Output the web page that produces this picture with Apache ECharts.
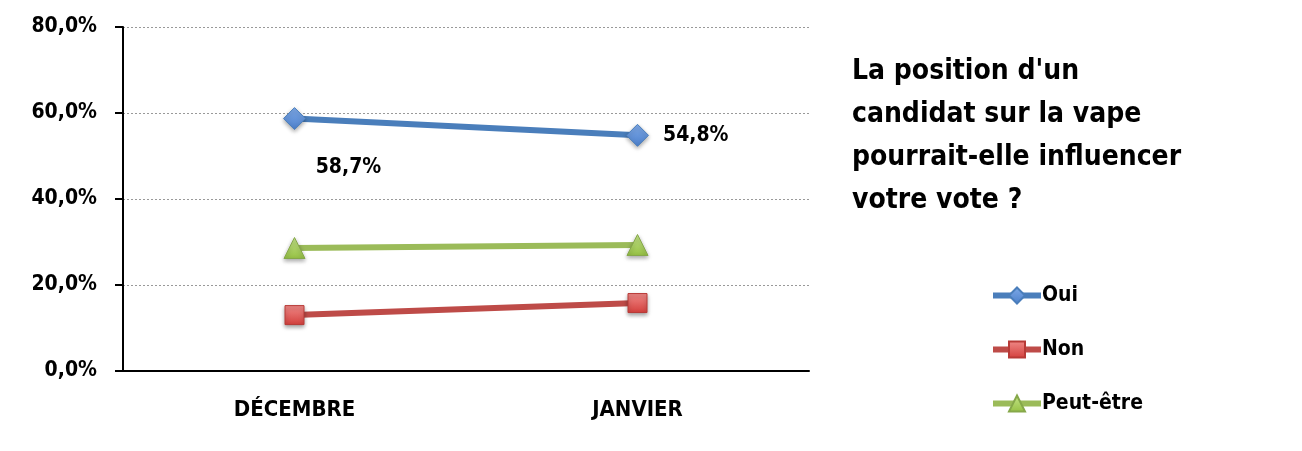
<!DOCTYPE html>
<html><head><meta charset="utf-8">
<script src="https://cdn.jsdelivr.net/npm/echarts@6/dist/echarts.min.js"></script>
<style>html,body{margin:0;padding:0;background:#fff}#c{width:1302px;height:451px}</style>
</head><body><div id="c"></div>
<script>
const categories = ['DÉCEMBRE', 'JANVIER'];
const oui = [58.7, 54.8];
const non = [13.0, 15.8];
const peutEtre = [28.6, 29.3];
const yTicks = [0, 20, 40, 60, 80];
const FONT = '"DejaVu Sans Condensed", "Liberation Sans Narrow", sans-serif';
const fmt = v => v.toFixed(1).replace('.', ',') + '%';

const chart = echarts.init(document.getElementById('c'));
function grad(c1, c2){ return new echarts.graphic.LinearGradient(0,0,0,1,[{offset:0,color:c1},{offset:1,color:c2}]); }
chart.setOption({
  animation: false,
  textStyle: { fontFamily: FONT },
  title: {
    text: "La position d'un\ncandidat sur la vape\npourrait-elle influencer\nvotre vote ?",
    left: 847, top: 45,
    textStyle: { fontFamily: FONT, fontSize: 28, fontWeight: 'bold', color: '#000', lineHeight: 43 }
  },
  legend: {
    orient: 'vertical', left: 990, top: 285, padding: 0, itemGap: 33, itemWidth: 48, itemHeight: 20,
    lineStyle: { width: 6 },
    textStyle: { fontFamily: FONT, fontSize: 21, fontWeight: 'bold', color: '#000', padding: [0,0,0,-4] },
    data: ['Oui', 'Non', 'Peut-être']
  },
  grid: { left: 123, right: 493, top: 27, bottom: 80 },
  xAxis: {
    type: 'category', data: categories, boundaryGap: true,
    axisLine: { lineStyle: { color: '#000', width: 2 } },
    axisTick: { length: 6, lineStyle: { color: '#000', width: 2 } },
    axisLabel: { margin: 28, fontFamily: FONT, fontSize: 22, fontWeight: 'bold', color: '#000' }
  },
  yAxis: {
    type: 'value', min: yTicks[0], max: yTicks[yTicks.length-1], interval: 20,
    axisLine: { show: true, lineStyle: { color: '#000', width: 2 } },
    axisTick: { show: true, length: 8, lineStyle: { color: '#000', width: 2 } },
    axisLabel: { margin: 26, fontFamily: FONT, fontSize: 21, fontWeight: 'bold', color: '#000', formatter: v => fmt(v) },
    splitLine: { show: true, lineStyle: { color: '#999', type: [2, 2], width: 1 } }
  },
  series: [
    {
      name: 'Oui', type: 'line', symbol: 'diamond', symbolSize: 22,
      lineStyle: { color: '#4A7EBB', width: 6 },
      itemStyle: { color: grad('#7FAAE8', '#4B7FCB'), borderColor: '#4A7EBB', borderWidth: 1, shadowColor: 'rgba(0,0,0,0.35)', shadowBlur: 4, shadowOffsetY: 2 },
      data: [
        { value: oui[0], label: { show: true, position: 'bottom', offset: [54, 22], formatter: p => fmt(p.value) } },
        { value: oui[1], label: { show: true, position: 'right', distance: 14, formatter: p => fmt(p.value) } }
      ],
      label: { fontFamily: FONT, fontSize: 21, fontWeight: 'bold', color: '#000' },
      z: 3
    },
    {
      name: 'Non', type: 'line', symbol: 'rect', symbolSize: 19,
      lineStyle: { color: '#BE4B48', width: 6 },
      itemStyle: { color: grad('#F08A88', '#D33F3C'), borderColor: '#B83A37', borderWidth: 1, shadowColor: 'rgba(0,0,0,0.35)', shadowBlur: 4, shadowOffsetY: 2 },
      data: non, z: 2
    },
    {
      name: 'Peut-être', type: 'line', symbol: 'triangle', symbolSize: 21,
      lineStyle: { color: '#9BBB59', width: 6 },
      itemStyle: { color: grad('#C6E68A', '#95C043'), borderColor: '#86A84A', borderWidth: 1, shadowColor: 'rgba(0,0,0,0.35)', shadowBlur: 4, shadowOffsetY: 2 },
      data: peutEtre, z: 2
    }
  ]
});
</script></body></html>
